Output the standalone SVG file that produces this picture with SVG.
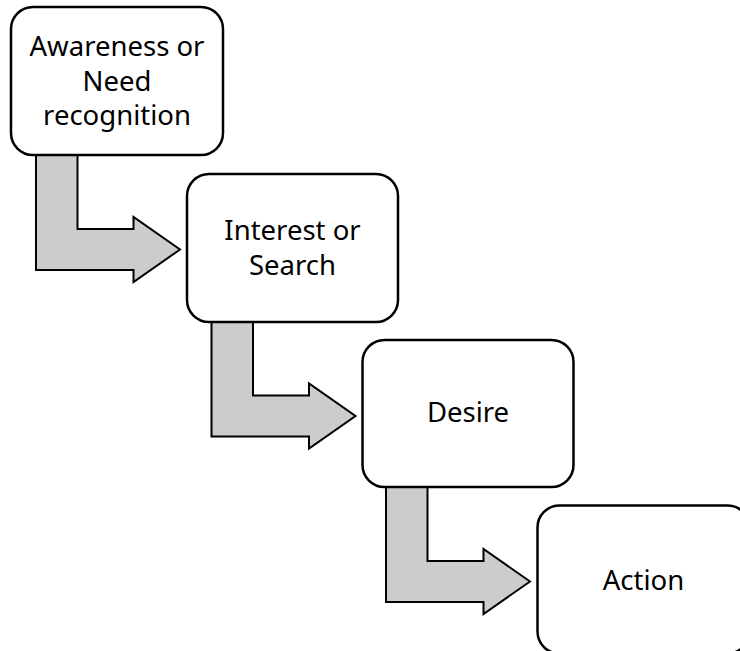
<svg xmlns="http://www.w3.org/2000/svg" width="740" height="651" viewBox="0 0 740 651">
<style>
.box{fill:#ffffff;stroke:#000000;stroke-width:2.5}
.arr{fill:#cccccc;stroke:#000000;stroke-width:2;stroke-linejoin:miter}
.lbl{font-family:"Noto Sans","Liberation Sans",sans-serif;font-size:27.5px;fill:#000000;text-anchor:middle}
</style>
<defs>
<path id="bent" d="M36,155 L77.5,155 L77.5,229 L133.5,229 L133.5,217 L180,249.5 L133.5,282 L133.5,270 L36,270 Z"/>
</defs>
<rect width="740" height="651" fill="#ffffff"/>
<g id="connectors">
<use href="#bent" class="arr"/>
<use href="#bent" class="arr" transform="translate(175.5,166.5)"/>
<use href="#bent" class="arr" transform="translate(350,332)"/>
</g>
<g id="awareness">
<rect class="box" x="11" y="7" width="212" height="148" rx="22" ry="22"/>
<text class="lbl" x="117" y="56">Awareness or</text>
<text class="lbl" x="117" y="90.5">Need</text>
<text class="lbl" x="117" y="125">recognition</text>
</g>
<g id="interest">
<rect class="box" x="187" y="174" width="211" height="148" rx="22" ry="22"/>
<text class="lbl" x="292.5" y="240">Interest or</text>
<text class="lbl" x="292.5" y="275">Search</text>
</g>
<g id="desire">
<rect class="box" x="362.5" y="340" width="211" height="147" rx="22" ry="22"/>
<text class="lbl" x="468" y="422">Desire</text>
</g>
<g id="action">
<rect class="box" x="537.5" y="505.5" width="212" height="148" rx="22" ry="22"/>
<text class="lbl" x="643.5" y="589.5">Action</text>
</g>
</svg>
